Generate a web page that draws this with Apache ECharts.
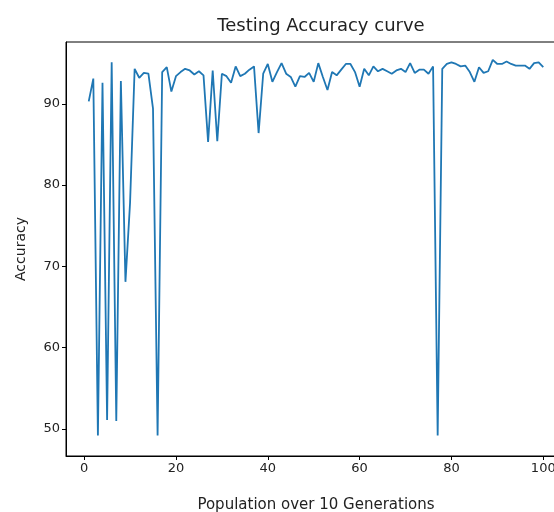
<!DOCTYPE html>
<html>
<head>
<meta charset="utf-8">
<script src="https://cdn.jsdelivr.net/npm/echarts@6/dist/echarts.min.js"></script>
<style>
  html, body { margin: 0; padding: 0; background: #fff; }
  #chart { width: 554px; height: 512px; }
</style>
</head>
<body>
<div id="chart"></div>
<script>
// population index, 1..100
const generations = [];
for (let i = 1; i <= 100; i++) generations.push(i);

// testing accuracy
const accuracy = [
  90.3, 93.1, 49.2, 92.6, 51.1, 95.1, 51.0, 92.8, 68.1, 77.8,
  94.3, 93.2, 93.8, 93.7, 89.4, 49.2, 93.9, 94.5, 91.5, 93.4,
  93.9, 94.3, 94.1, 93.6, 94.0, 93.5, 85.3, 94.1, 85.4, 93.7,
  93.4, 92.6, 94.6, 93.4, 93.7, 94.2, 94.6, 86.4, 93.7, 94.9,
  92.7, 93.9, 95.0, 93.7, 93.3, 92.1, 93.4, 93.3, 93.8, 92.7,
  95.0, 93.3, 91.7, 93.9, 93.5, 94.2, 94.9, 94.9, 93.9, 92.1,
  94.3, 93.5, 94.6, 94.0, 94.3, 94.0, 93.7, 94.1, 94.3, 93.9,
  95.0, 93.8, 94.2, 94.2, 93.7, 94.6, 49.2, 94.3, 94.9, 95.1,
  94.9, 94.6, 94.7, 93.9, 92.7, 94.5, 93.8, 94.0, 95.4, 94.9,
  94.9, 95.2, 94.9, 94.7, 94.7, 94.7, 94.3, 95.0, 95.1, 94.5
];

const xTicks = [0, 20, 40, 60, 80, 100];
const yTicks = [50, 60, 70, 80, 90];

const font = "DejaVu Sans";
const ink = "#222";

const chart = echarts.init(document.getElementById("chart"));
chart.setOption({
  animation: false,
  title: {
    text: "Testing Accuracy curve",
    left: 316,
    top: 12,
    textAlign: "center",
    textStyle: { fontFamily: font, fontSize: 18, fontWeight: "normal", color: ink }
  },
  grid: {
    left: 66,
    right: -12,
    top: 42,
    bottom: 56,
    outerBoundsMode: "none",
    containLabel: false,
    show: true,
    borderColor: "#000",
    borderWidth: 1
  },
  xAxis: {
    type: "value",
    min: -3.95,
    max: 104.95,
    name: "Population over 10 Generations",
    nameLocation: "middle",
    nameGap: 42,
    nameTextStyle: { fontFamily: font, fontSize: 15, color: ink },
    axisLine: { onZero: false, lineStyle: { color: "#000", width: 1 } },
    axisTick: { customValues: xTicks, length: 4, lineStyle: { color: "#000" } },
    axisLabel: { customValues: xTicks, margin: 6, fontFamily: font, fontSize: 13, color: ink },
    splitLine: { show: false }
  },
  yAxis: {
    type: "value",
    min: 46.68,
    max: 97.6,
    name: "Accuracy",
    nameLocation: "middle",
    nameRotate: 90,
    nameGap: 38,
    nameTextStyle: { fontFamily: font, fontSize: 14, color: ink },
    axisLine: { show: true, onZero: false, lineStyle: { color: "#000", width: 1 } },
    axisTick: { show: true, customValues: yTicks, length: 4, lineStyle: { color: "#000" } },
    axisLabel: { customValues: yTicks, margin: 6, fontFamily: font, fontSize: 13, color: ink },
    splitLine: { show: false }
  },
  series: [
    {
      type: "line",
      data: generations.map((g, i) => [g, accuracy[i]]),
      showSymbol: false,
      lineStyle: { color: "#1f77b4", width: 1.8 },
      itemStyle: { color: "#1f77b4" }
    }
  ]
});
</script>
</body>
</html>
